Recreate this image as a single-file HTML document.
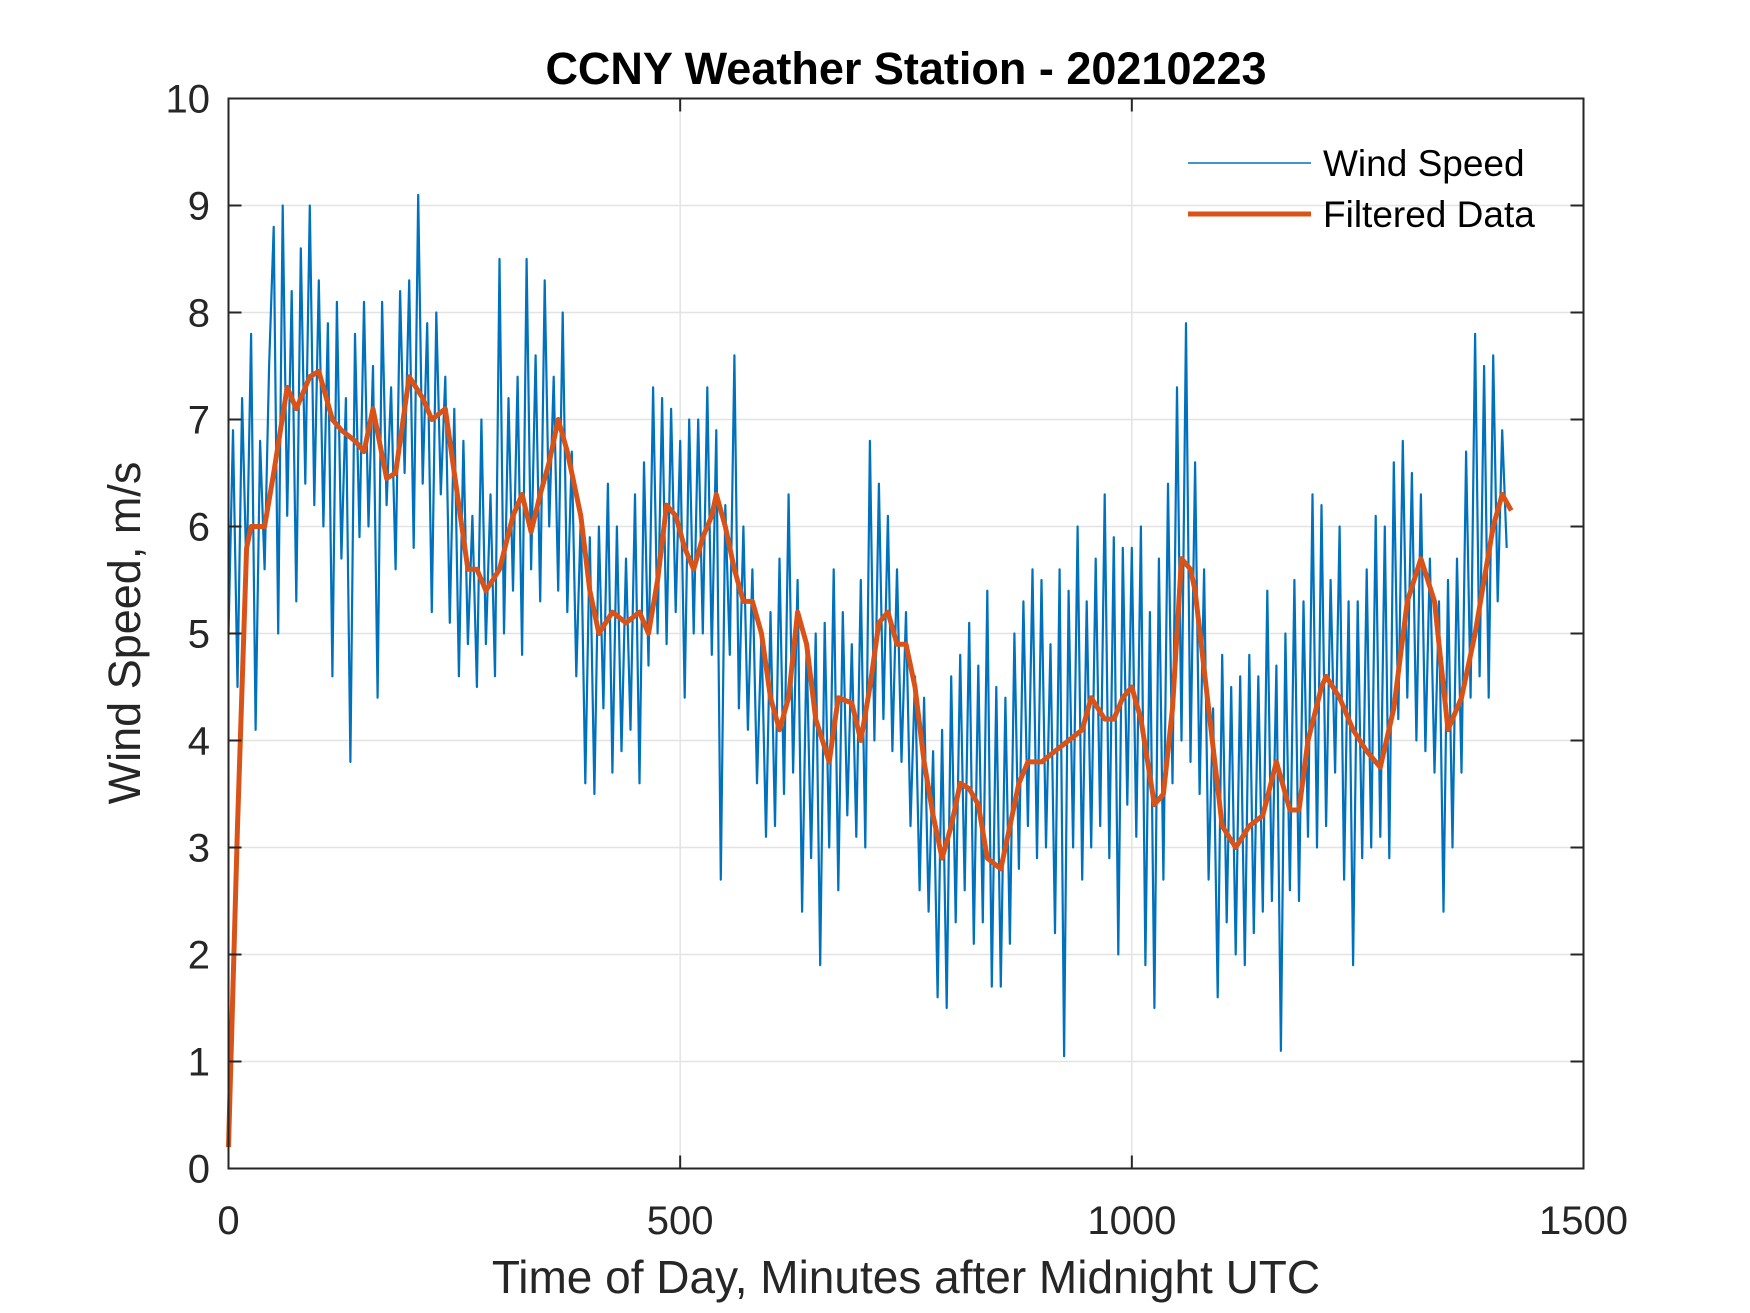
<!DOCTYPE html>
<html><head><meta charset="utf-8">
<style>
html,body{margin:0;padding:0;background:#fff;}
svg{display:block;font-family:"Liberation Sans",Arial,sans-serif;}
</style></head>
<body>
<svg id="chart" width="1750" height="1313" viewBox="0 0 1750 1313" xmlns="http://www.w3.org/2000/svg">
<rect width="1750" height="1313" fill="#fff"/>
<g id="grid"></g>
<g id="series"></g>
<rect x="228.5" y="98.5" width="1355" height="1070" fill="none" stroke="#262626" stroke-width="2"/>
<g id="ticks"></g>
<text x="906" y="84" text-anchor="middle" font-size="45" font-weight="bold" fill="#000">CCNY Weather Station - 20210223</text>
<text x="906" y="1293" text-anchor="middle" font-size="46" fill="#262626">Time of Day, Minutes after Midnight UTC</text>
<text transform="translate(140,633) rotate(-90)" text-anchor="middle" font-size="45" fill="#262626">Wind Speed, m/s</text>
<g>
<line x1="1188" y1="163" x2="1311" y2="163" stroke="#0072BD" stroke-width="1.6"/>
<text x="1323" y="176" font-size="37" fill="#000">Wind Speed</text>
<line x1="1188" y1="214" x2="1311" y2="214" stroke="#D95319" stroke-width="5"/>
<text x="1323" y="227" font-size="37" fill="#000">Filtered Data</text>
</g>
</svg>
<script>
const xTicks=[0,500,1000,1500];
const yTicks=[0,1,2,3,4,5,6,7,8,9,10];
const rawStep=5;
const rawSpeed=[
5.0,6.9,4.5,7.2,5.5,7.8,4.1,6.8,5.6,7.5,
8.8,5.0,9.0,6.1,8.2,5.3,8.6,6.4,9.0,6.2,
8.3,6.0,7.9,4.6,8.1,5.7,7.2,3.8,7.8,5.9,
8.1,6.0,7.5,4.4,8.1,6.2,7.3,5.6,8.2,6.5,
8.3,5.8,9.1,6.4,7.9,5.2,8.0,6.3,7.4,5.1,
7.1,4.6,6.8,4.9,6.1,4.5,7.0,4.9,6.3,4.6,
8.5,5.0,7.2,5.4,7.4,4.8,8.5,5.6,7.6,5.3,
8.3,6.0,7.4,5.4,8.0,5.2,6.7,4.6,6.1,3.6,
5.9,3.5,6.0,4.3,6.4,3.7,6.0,3.9,5.7,4.1,
6.3,3.6,6.6,4.7,7.3,5.0,7.2,4.9,7.1,5.2,
6.8,4.4,7.0,5.0,7.0,5.0,7.3,4.8,6.9,2.7,
6.2,4.8,7.6,4.3,6.0,4.1,5.6,3.6,5.0,3.1,
5.2,3.2,5.7,3.5,6.3,3.7,5.5,2.4,4.9,2.9,
5.0,1.9,5.1,3.0,5.6,2.6,5.2,3.3,4.9,3.1,
5.5,3.0,6.8,4.0,6.4,4.2,6.1,3.9,5.6,3.8,
5.2,3.2,4.6,2.6,4.4,2.4,3.9,1.6,4.1,1.5,
4.6,2.3,4.8,2.6,5.1,2.1,4.7,2.3,5.4,1.7,
4.5,1.7,4.4,2.1,5.0,2.8,5.3,3.2,5.6,2.9,
5.5,3.0,4.9,2.2,5.6,1.05,5.4,3.0,6.0,2.7,
5.3,3.0,5.7,3.2,6.3,2.9,5.9,2.0,5.8,3.4,
5.8,3.1,6.0,1.9,5.2,1.5,5.7,2.7,6.4,3.6,
7.3,4.0,7.9,3.8,6.6,3.5,5.6,2.7,4.3,1.6,
4.8,2.3,4.5,2.0,4.6,1.9,4.8,2.2,4.6,2.4,
5.4,2.5,4.7,1.1,5.0,2.6,5.5,2.5,5.3,3.1,
6.3,3.0,6.2,3.2,5.5,3.7,6.0,2.7,5.3,1.9,
5.3,2.9,5.6,3.0,6.1,3.1,6.0,2.9,6.6,4.2,
6.8,4.4,6.5,4.0,6.3,3.9,5.7,3.7,5.3,2.4,
5.5,3.0,5.7,3.7,6.7,4.4,7.8,4.6,7.5,4.4,
7.6,5.3,6.9,5.8
];
const filtTime=[0,10,20,25,40,50,65,75,90,100,115,125,140,150,160,175,185,200,215,225,240,250,265,275,285,300,315,325,335,345,355,365,375,390,400,410,425,440,455,465,475,485,495,505,515,525,535,540,550,560,570,580,590,600,610,620,630,640,650,665,675,690,700,710,720,730,740,750,760,770,780,790,800,810,820,830,840,855,865,875,885,900,915,930,945,955,970,980,990,1000,1010,1025,1035,1045,1055,1065,1070,1085,1100,1115,1130,1145,1160,1175,1185,1195,1210,1215,1230,1245,1260,1275,1290,1305,1320,1335,1350,1365,1380,1390,1400,1410,1420];
const filtValue=[0.2,3.2,5.8,6.0,6.0,6.5,7.3,7.1,7.4,7.45,7.0,6.9,6.8,6.7,7.1,6.45,6.5,7.4,7.2,7.0,7.1,6.5,5.6,5.6,5.4,5.6,6.1,6.3,5.95,6.3,6.6,7.0,6.7,6.1,5.4,5.0,5.2,5.1,5.2,5.0,5.5,6.2,6.1,5.8,5.6,5.9,6.1,6.3,6.0,5.6,5.3,5.3,5.0,4.4,4.1,4.4,5.2,4.9,4.2,3.8,4.4,4.35,4.0,4.5,5.1,5.2,4.9,4.9,4.5,3.8,3.3,2.9,3.2,3.6,3.55,3.4,2.9,2.8,3.2,3.6,3.8,3.8,3.9,4.0,4.1,4.4,4.2,4.2,4.4,4.5,4.2,3.4,3.5,4.3,5.7,5.6,5.4,4.3,3.2,3.0,3.2,3.3,3.8,3.35,3.35,4.0,4.5,4.6,4.4,4.1,3.9,3.75,4.3,5.3,5.7,5.3,4.1,4.4,5.0,5.5,6.0,6.3,6.15];

const L=228.5,R=1583.5,T=98.5,B=1168.5;
function xs(v){return L+(v-0)/(1500-0)*(R-L);}
function ys(v){return B-(v-0)/(10-0)*(B-T);}
const NS="http://www.w3.org/2000/svg";
const grid=document.getElementById('grid'),ticks=document.getElementById('ticks'),series=document.getElementById('series');
function mk(tag,attrs,parent){const e=document.createElementNS(NS,tag);for(const k in attrs)e.setAttribute(k,attrs[k]);parent.appendChild(e);return e;}
xTicks.forEach(t=>{
  const x=xs(t);
  const g=mk('line',{x1:x,y1:T,x2:x,y2:B,stroke:'#e3e3e3','stroke-width':1.5},grid);
  
  
  const a=mk('line',{x1:x,y1:B,x2:x,y2:B-13,stroke:'#262626','stroke-width':2},ticks);
  
  
  const b=mk('line',{x1:x,y1:T,x2:x,y2:T+13,stroke:'#262626','stroke-width':2},ticks);
  
  
  const lb=mk('text',{x:x,y:1234,'text-anchor':'middle','font-size':40,fill:'#262626'},ticks);
  lb.textContent=t;
  
  
});
yTicks.forEach(t=>{
  const y=ys(t);
  const g=mk('line',{x1:L,y1:y,x2:R,y2:y,stroke:'#e3e3e3','stroke-width':1.5},grid);
  
  
  const a=mk('line',{x1:L,y1:y,x2:L+13,y2:y,stroke:'#262626','stroke-width':2},ticks);
  
  
  const b=mk('line',{x1:R,y1:y,x2:R-13,y2:y,stroke:'#262626','stroke-width':2},ticks);
  
  
  const lb=mk('text',{x:210,y:y+14,'text-anchor':'end','font-size':40,fill:'#262626'},ticks);
  lb.textContent=t;
  
  
});
const rawPts=rawSpeed.map((v,i)=>xs(i*rawStep).toFixed(1)+','+ys(v).toFixed(1)).join(' ');
const raw=mk('polyline',{points:rawPts,fill:'none',stroke:'#0072BD','stroke-width':2.2,'stroke-linejoin':'round'},series);


const fPts=filtTime.map((t,i)=>xs(t).toFixed(1)+','+ys(filtValue[i]).toFixed(1)).join(' ');
const filt=mk('polyline',{points:fPts,fill:'none',stroke:'#D95319','stroke-width':5,'stroke-linejoin':'round'},series);


</script>
</body></html>
